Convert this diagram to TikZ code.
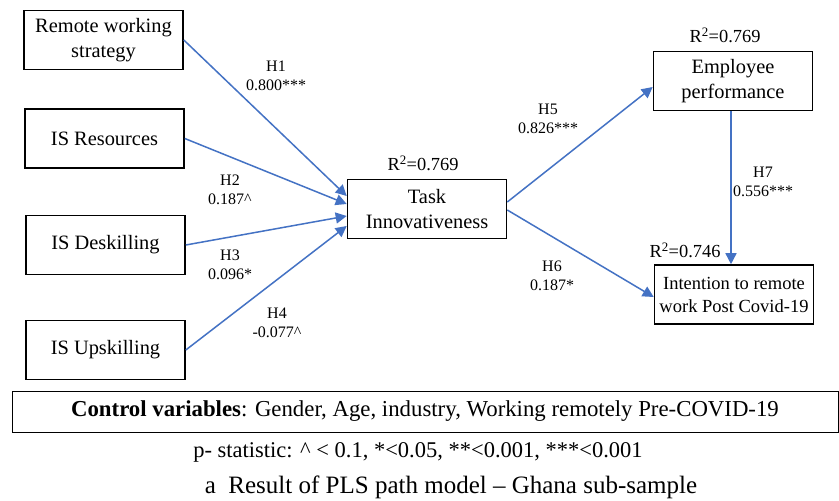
\documentclass[tikz,border=0pt]{standalone}
\usepackage{fontspec}
\setmainfont{Liberation Serif}
\usepackage{xcolor}
\usepackage{tikz}
\usetikzlibrary{arrows.meta,positioning}
\definecolor{plsblue}{RGB}{68,114,196}

\begin{document}
\begin{tikzpicture}[x=1pt,y=-1pt,
      box/.style={draw=black,line width=1.6pt,minimum width=159pt,minimum height=59pt,
                  inner sep=0pt,align=center,font=\fontsize{20.4}{24.5}\selectfont},
      hyp/.style={align=center,inner sep=0pt,font=\fontsize{16}{19}\selectfont},
      rsq/.style={inner sep=0pt,font=\fontsize{18.4}{22}\selectfont},
      ar/.style={-{Triangle[length=11pt,width=11pt]},plsblue,line width=1.5pt}]
    \useasboundingbox[fill=white] (0,0) rectangle (839,501);
    % constructs
    \node[box] (rws) at (103.5,40) {Remote working\\strategy};
    \node[box] (isr) at (104.5,138.5) {IS Resources};
    \node[box] (isd) at (105.5,245) {IS Deskilling};
    \node[box] (isu) at (105.5,350) {IS Upskilling};
    \node[box] (task) at (427,209) {Task\\Innovativeness};
    \node[box] (emp) at (733,81) {Employee\\performance};
    \node[box,font=\fontsize{18.5}{23}\selectfont] (intent) at (734,294.5)
      {Intention to remote\\work Post Covid-19};
    % R squared
    \node[rsq] (rtask) at (423,163) {R\textsuperscript{2}=0.769};
    \node[rsq] (remp) at (725,35) {R\textsuperscript{2}=0.769};
    \node[rsq] (rint) at (685,250) {R\textsuperscript{2}=0.746};
    % paths
    \draw[ar] (rws.east) -- ([yshift=13pt]task.west);
    \draw[ar] (isr.east) -- ([yshift=5pt]task.west);
    \draw[ar] (isd.east) -- ([yshift=-7pt]task.west);
    \draw[ar] (isu.east) -- ([yshift=-17pt]task.west);
    \draw[ar] ([yshift=7pt]task.east) -- ([yshift=-6pt]emp.west);
    \draw[ar] ([yshift=-1pt]task.east) -- ([yshift=-2.5pt]intent.west);
    \draw[ar] ([xshift=-2pt]emp.south) -- ([xshift=-3pt]intent.north);
    % path labels
    \node[hyp] (h1) at (276,76) {H1\\0.800***};
    \node[hyp] (h2) at (230,189.5) {H2\\0.187\^{}};
    \node[hyp] (h3) at (230,264.5) {H3\\0.096*};
    \node[hyp] (h4) at (277,322.5) {H4\\-0.077\^{}};
    \node[hyp] (h5) at (548,119) {H5\\0.826***};
    \node[hyp] (h6) at (552,275.5) {H6\\0.187*};
    \node[hyp] (h7) at (763,181.5) {H7\\0.556***};
    % notes
    \node[draw=black,line width=0.8pt,minimum width=826pt,minimum height=41pt,inner sep=0pt,
          font=\fontsize{22.8}{26}\selectfont] (ctrl) at (425,411.5)
      {\textbf{Control variables}: Gender, Age, industry, Working remotely Pre-COVID-19};
    \node[inner sep=0pt,font=\fontsize{22.5}{26}\selectfont] (pstat) at (418,452)
      {p- statistic: \^{} \textless{} 0.1, *\textless{}0.05, **\textless{}0.001, ***\textless{}0.001};
    \node[inner sep=0pt,font=\fontsize{25}{30}\selectfont] (capt) at (451,487)
      {a\ \ Result of PLS path model -- Ghana sub-sample};
  \end{tikzpicture}
\end{document}
